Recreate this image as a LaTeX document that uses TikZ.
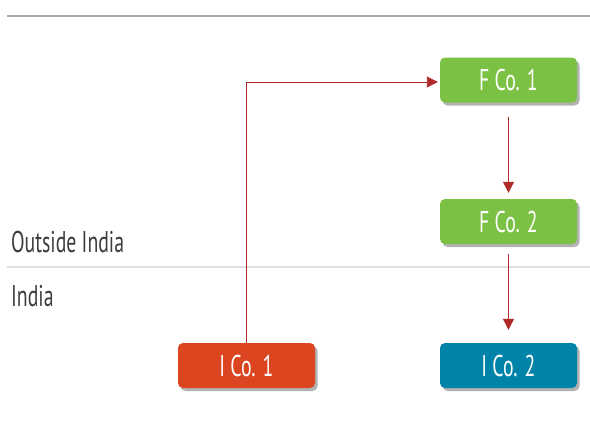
\documentclass[tikz,border=0pt]{standalone}
\usepackage{fontspec}
\setmainfont{PT Sans}[FakeStretch=0.66]
\usetikzlibrary{arrows.meta,shadows}
\definecolor{fgreen}{HTML}{7BC143}
\definecolor{ired}{HTML}{DB4520}
\definecolor{iteal}{HTML}{0083A9}
\definecolor{arrred}{HTML}{B02A2A}
\definecolor{labgray}{HTML}{3C3C3C}
\tikzset{
  cobox/.style={rounded corners=5pt, minimum width=137pt, minimum height=45pt,
    text=white, font=\fontsize{30}{33}\selectfont, inner sep=0pt,
    drop shadow={shadow xshift=2.5pt, shadow yshift=-3pt, opacity=0.3, fill=black}},
  flow/.style={draw=arrred, line width=1.1pt, -{Triangle[length=11pt,width=11pt]}},
  sidelabel/.style={anchor=west, text=labgray, font=\fontsize{30}{33}\selectfont, inner sep=0pt},
}
\begin{document}
\begin{tikzpicture}[x=1pt,y=-1pt]
\useasboundingbox (0,0) rectangle (590,429);
\fill[white] (0,0) rectangle (590,429);
\draw[draw=black!33, line width=2.2pt] (7,16) -- (590,16);
\draw[draw=black!12, line width=2.2pt] (7,267) -- (590,267);
\node[sidelabel] (lout) at (11,242) {Outside India};
\node[sidelabel] (lin) at (11,296) {India};
\node[cobox, fill=fgreen] (f1) at (508.5,80) {F Co. 1};
\node[cobox, fill=fgreen] (f2) at (508.5,221.5) {F Co. 2};
\node[cobox, fill=ired] (i1) at (246.5,365.5) {I Co. 1};
\node[cobox, fill=iteal] (i2) at (508.5,365.5) {I Co. 2};
\draw[flow, shorten <=14pt, shorten >=6pt] (f1) -- (f2);
\draw[flow, shorten <=10pt, shorten >=13pt] (f2) -- (i2);
\draw[flow, line width=0.9pt, shorten >=2pt] (i1.north) |- ([yshift=-2pt]f1.west);
\end{tikzpicture}
\end{document}
